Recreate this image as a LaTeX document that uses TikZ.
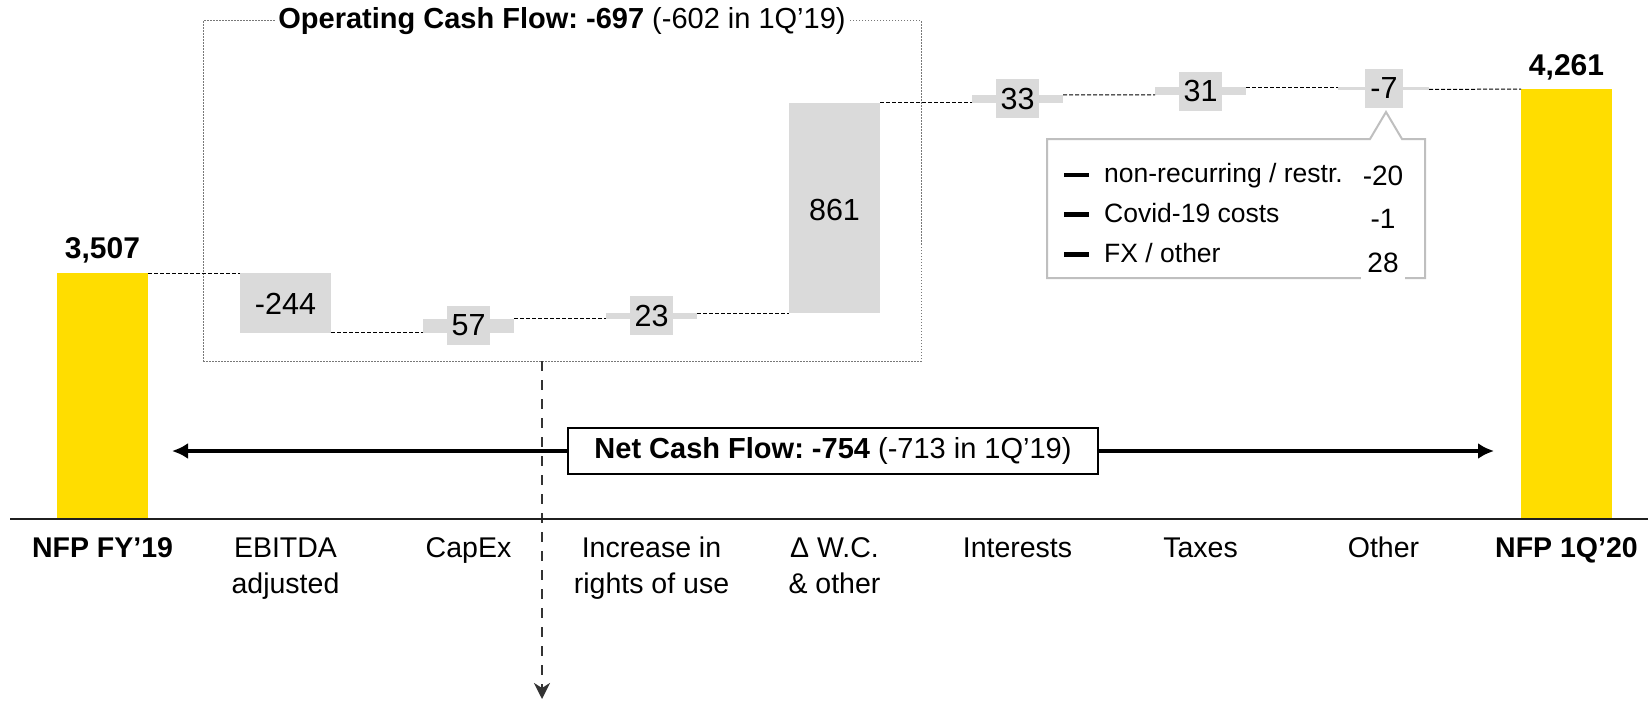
\documentclass[tikz,border=0pt]{standalone}
\usepackage{fontspec}
\setmainfont{Liberation Sans}
\usetikzlibrary{arrows.meta}
\definecolor{nfpyellow}{RGB}{255,221,0}
\definecolor{bargray}{RGB}{218,218,218}
\definecolor{calloutgray}{RGB}{191,191,191}
\definecolor{dotgray}{RGB}{120,120,120}
\frenchspacing
\begin{document}
\begin{tikzpicture}[x=1pt,y=-1pt,
  yellowbar/.style={fill=nfpyellow, draw=none, minimum width=91pt, inner sep=0pt, outer sep=0pt},
  graybar/.style={fill=bargray, draw=none, minimum width=91pt, inner sep=0pt, outer sep=0pt},
  vallabel/.style={fill=bargray, inner xsep=5pt, inner ysep=0pt, minimum height=39pt, font=\fontsize{30.5}{36}\selectfont},
  catlabel/.style={anchor=base, inner sep=0pt, font=\fontsize{28.5}{34}\selectfont},
  boldcat/.style={anchor=base, inner sep=0pt, font=\fontsize{28.5}{34}\selectfont\bfseries},
  totallabel/.style={font=\fontsize{30}{36}\selectfont\bfseries, inner sep=0pt},
  link/.style={draw=black, line width=1pt, dash pattern=on 4pt off 2pt},
  ocfbox/.style={draw=dotgray, line width=1pt, dash pattern=on 1.5pt off 1.5pt, minimum width=718pt, minimum height=340pt, inner sep=0pt, outer sep=0pt},
  ocftitle/.style={fill=white, inner xsep=3pt, inner ysep=2pt, font=\fontsize{29}{34}\selectfont},
  ncfbox/.style={draw=black, line width=2.5pt, fill=white, minimum width=530pt, minimum height=46pt, font=\fontsize{29}{34}\selectfont},
  ncfarrow/.style={line width=4pt, -{Latex[length=16pt,width=16pt]}},
  downarrow/.style={draw=black!80, line width=2.8pt, dash pattern=on 10pt off 9pt, -{Stealth[length=16pt,width=16pt,inset=5pt]}},
  calltext/.style={anchor=base west, inner sep=0pt, font=\fontsize{26.5}{32}\selectfont},
  callval/.style={anchor=base, fill=white, inner xsep=6pt, inner ysep=1pt, text depth=7pt, font=\fontsize{28}{32}\selectfont},
  bulletbar/.style={fill=black, minimum width=25pt, minimum height=4.5pt, inner sep=0pt}
]
\useasboundingbox (0,0) rectangle (1648,701);

% operating cash flow frame
\node[ocfbox] (ocf) at (562,191) {};

% bars
\node[yellowbar, minimum height=245pt] (fy) at (102.5,395.5) {};
\node[graybar, minimum height=59.5pt] (eb) at (285.5,302.75) {};
\node[graybar, minimum height=13.9pt] (cx) at (468.5,325.55) {};
\node[graybar, minimum height=5.6pt] (ru) at (651.5,315.8) {};
\node[graybar, minimum height=210.1pt] (wc) at (834.5,207.95) {};
\node[graybar, minimum height=8pt] (it) at (1017.5,98.9) {};
\node[graybar, minimum height=7.6pt] (tx) at (1200.5,91.1) {};
\node[graybar, minimum height=2.2pt] (ot) at (1383.5,88.4) {};
\node[yellowbar, minimum height=429pt] (nq) at (1566.5,303.5) {};

% connectors between bars
\draw[link] (fy.north east) -- (eb.north west);
\draw[link] (eb.south east) -- (cx.south west);
\draw[link] (cx.north east) -- (ru.south west);
\draw[link] (ru.north east) -- (wc.south west);
\draw[link] (wc.north east) -- (it.south west);
\draw[link] (it.north east) -- (tx.south west);
\draw[link] (tx.north east) -- (ot.north west);
\draw[link] (ot.south east) -- (nq.north west);

% title of the frame
\node[ocftitle] (ocft) at (ocf.north) {\textbf{Operating Cash Flow: -697} (-602 in 1Q’19)};

% totals
\node[totallabel] (tfy) at (102.5,250) {3,507};
\node[totallabel] (tnq) at (1566.5,67) {4,261};

% values
\node[vallabel] (veb) at (285.5,304) {-244};
\node[vallabel] (vcx) at (cx) {57};
\node[vallabel] (vru) at (ru) {23};
\node[vallabel] (vwc) at (834.5,210) {861};
\node[vallabel] (vit) at (it) {33};
\node[vallabel] (vtx) at (tx) {31};
\node[vallabel] (vot) at (1384,88.5) {-7};

% downward dashed arrow
\coordinate (dend) at (542,699);
\draw[downarrow] (dend |- ocf.south) -- (dend);

% net cash flow
\node[ncfbox] (ncf) at (833,451) {\textbf{Net Cash Flow: -754} (-713 in 1Q’19)};
\coordinate (la) at (172,451);
\coordinate (ra) at (1494,451);
\draw[ncfarrow] (ncf.west) -- (la);
\draw[ncfarrow] (ncf.east) -- (ra);

% axis
\coordinate (axl) at (10,519);
\coordinate (axr) at (1648,519);
\draw[line width=2pt, black!88] (axl) -- (axr);

% category labels
\node[boldcat] (c0) at (102.5,557) {NFP FY’19};
\node[catlabel] (c1a) at (285.5,557) {EBITDA};
\node[catlabel] (c1b) at (285.5,593) {adjusted};
\node[catlabel] (c2) at (468.5,557) {CapEx};
\node[catlabel] (c3a) at (651.5,557) {Increase in};
\node[catlabel] (c3b) at (651.5,593) {rights of use};
\node[catlabel] (c4a) at (834.5,557) {Δ W.C.};
\node[catlabel] (c4b) at (834.5,593) {\& other};
\node[catlabel] (c5) at (1017.5,557) {Interests};
\node[catlabel] (c6) at (1200.5,557) {Taxes};
\node[catlabel] (c7) at (1383.5,557) {Other};
\node[boldcat] (c8) at (1566.5,557) {NFP 1Q’20};

% callout for Other
\draw[draw=calloutgray, line width=2pt, fill=white, line join=miter]
  (1047,139) -- (1370,139) -- (1386,112) -- (1402,139) -- (1425,139)
  -- (1425,278) -- (1047,278) -- cycle;
\node[bulletbar] (bl1) at (1076.5,175) {};
\node[bulletbar] (bl2) at (1076.5,214.5) {};
\node[bulletbar] (bl3) at (1076.5,254.5) {};
\node[calltext] (t1) at (1104,182) {non-recurring / restr.};
\node[calltext] (t2) at (1104,222) {Covid-19 costs};
\node[calltext] (t3) at (1104,262) {FX / other};
\node[callval] (v1) at (1383,185) {-20};
\node[callval] (v2) at (1383,228) {-1};
\node[callval] (v3) at (1383,272) {28};
\end{tikzpicture}
\end{document}
